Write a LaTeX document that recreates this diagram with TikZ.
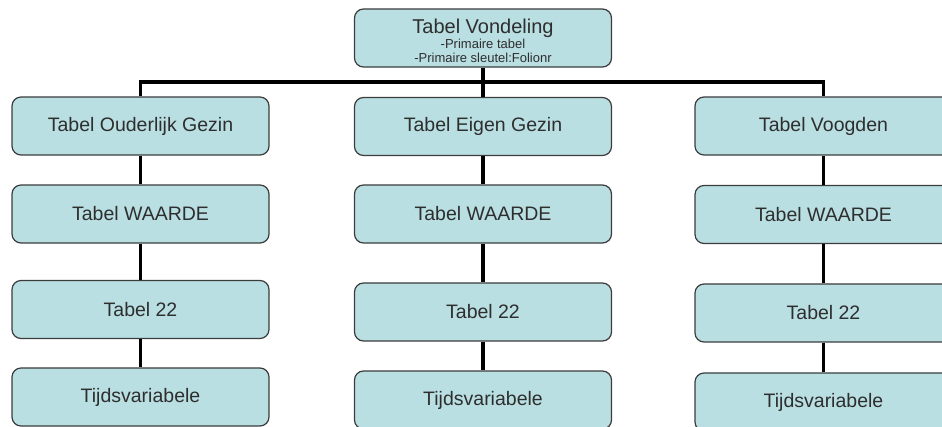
\documentclass[tikz,border=0pt]{standalone}
\usepackage{fontspec}
\setmainfont{Liberation Sans}
\definecolor{boxfill}{HTML}{B9DFE2}
\definecolor{boxline}{HTML}{3C3C3C}
\definecolor{boxtext}{HTML}{2E2E2E}
\begin{document}
\begin{tikzpicture}[x=1pt, y=-1pt,
        tabel/.style={draw=boxline, fill=boxfill, line width=1.2pt, rounded corners=9pt,
            minimum width=257pt, minimum height=58pt, inner sep=0pt, text=boxtext,
            font=\fontsize{19.5}{23}\selectfont},
        link/.style={line width=3.5pt, line join=miter}]
    \useasboundingbox (0,0) rectangle (942,427);
    \node[tabel, align=center, font=\fontsize{13}{14}\selectfont] (vondeling) at (483,38)
        {\rule{0pt}{21pt}{\fontsize{20}{14}\selectfont Tabel Vondeling}\\[1pt]
         -Primaire tabel\\
         -Primaire sleutel:Folionr};
    \coordinate (bar) at (483,82);
    \node[tabel] (ouder) at (140.5,126) {Tabel Ouderlijk Gezin};
    \node[tabel] (ouderwaarde) at (140.5,214) {Tabel WAARDE};
    \node[tabel] (ouder22) at (140.5,309.5) {Tabel 22};
    \node[tabel] (oudertijd) at (140.5,397) {Tijdsvariabele};
    \node[tabel] (eigen) at (483,126.5) {Tabel Eigen Gezin};
    \node[tabel] (eigenwaarde) at (483,214) {Tabel WAARDE};
    \node[tabel] (eigen22) at (483,312) {Tabel 22};
    \node[tabel] (eigentijd) at (483,400) {Tijdsvariabele};
    \node[tabel] (voogd) at (823.5,126) {Tabel Voogden};
    \node[tabel] (voogdwaarde) at (823.5,214.5) {Tabel WAARDE};
    \node[tabel] (voogd22) at (823.5,313) {Tabel 22};
    \node[tabel] (voogdtijd) at (823.5,402) {Tijdsvariabele};
    \draw[link] (vondeling.south) -- (bar);
    \draw[link] (ouder.north) -- (ouder.north |- bar) -- (voogd.north |- bar) -- (voogd.north);
    \draw[link] (eigen.north) -- (eigen.north |- bar);
    \foreach \col in {ouder, eigen, voogd} {
        \draw[link] (\col.south) -- (\col waarde.north);
        \draw[link] (\col waarde.south) -- (\col 22.north);
        \draw[link] (\col 22.south) -- (\col tijd.north);
    }
\end{tikzpicture}
\end{document}
